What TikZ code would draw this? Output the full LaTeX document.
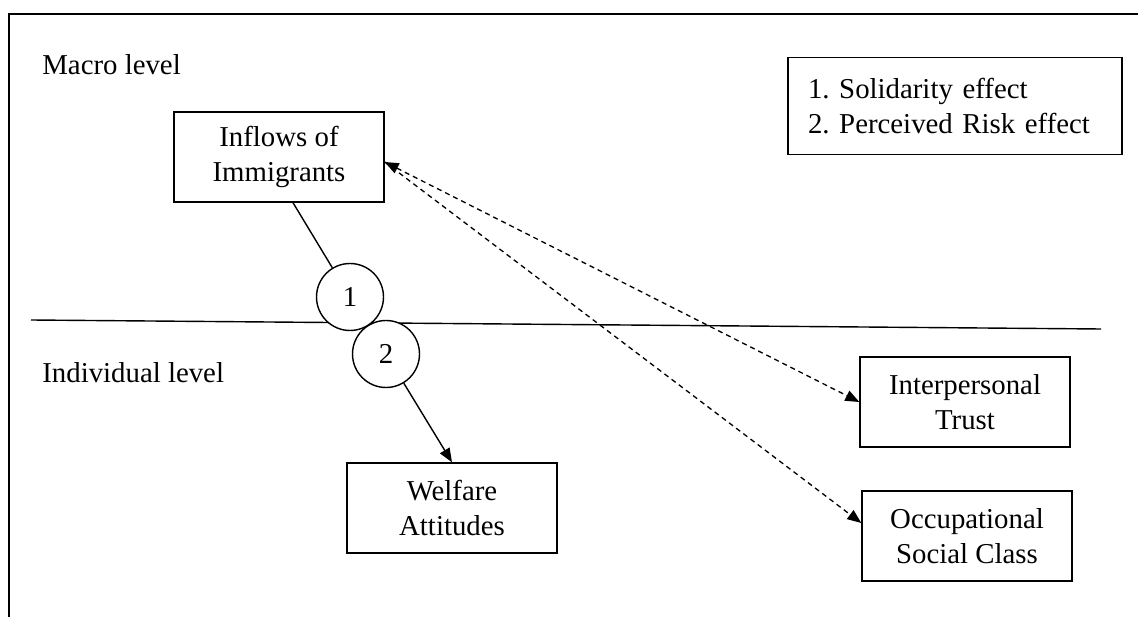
\documentclass[tikz,border=0pt]{standalone}
\usepackage{fontspec}
\setmainfont{Liberation Serif}
\usetikzlibrary{arrows.meta}
\frenchspacing

\begin{document}
\begin{tikzpicture}[x=0.02cm, y=-0.02cm,
        >={Triangle[length=0.28cm, width=0.22cm]},
        every node/.style={font=\fontsize{16.4}{20}\selectfont},
        varbox/.style={draw, line width=0.8pt, align=center, minimum width=4.2cm, minimum height=1.8cm},
        effect/.style={draw, circle, fill=white, line width=0.8pt, minimum size=1.34cm, inner sep=0pt}]
        \useasboundingbox (0,0) rectangle (1138,617);
        \draw[line width=0.8pt] (1138,14) -- (9,14) -- (9,617);
        \node[anchor=west, inner xsep=0pt] (macro) at (42,65) {Macro level};
        \node[anchor=west, inner xsep=0pt] (individual) at (42,373) {Individual level};
        \coordinate (split west) at (31,320);
        \coordinate (split east) at (1101,329);
        \draw[line width=0.8pt] (split west) -- (split east);
        \node[varbox] (inflows) at (279,157) {Inflows of\\Immigrants};
        \node[varbox] (welfare) at (452,508) {Welfare\\Attitudes};
        \node[varbox] (trust) at (965,402) {Interpersonal\\Trust};
        \node[varbox] (class) at (967,536) {Occupational\\Social Class};
        \node[draw, line width=0.8pt, align=left, text width=5.88cm, inner xsep=0.4cm, minimum height=1.94cm] (legend) at (955,106) {1. Solidarity effect\\2. Perceived Risk effect};
        \node[effect] (solidarity) at (350,297) {1};
        \node[effect] (risk) at (386,354) {2};
        \draw[line width=0.8pt] ([xshift=0.28cm]inflows.south) -- (solidarity);
        \draw[line width=0.8pt, ->] (risk) -- (welfare.north);
        \coordinate (inflows port) at ([yshift=-0.1cm]inflows.east);
        \draw[line width=0.75pt, dash pattern=on 0.1cm off 0.08cm, <->] (inflows port) -- (trust.west);
        \draw[line width=0.75pt, dash pattern=on 0.1cm off 0.08cm, ->] (inflows port) -- ([yshift=0.26cm]class.west);
    \end{tikzpicture}
\end{document}
